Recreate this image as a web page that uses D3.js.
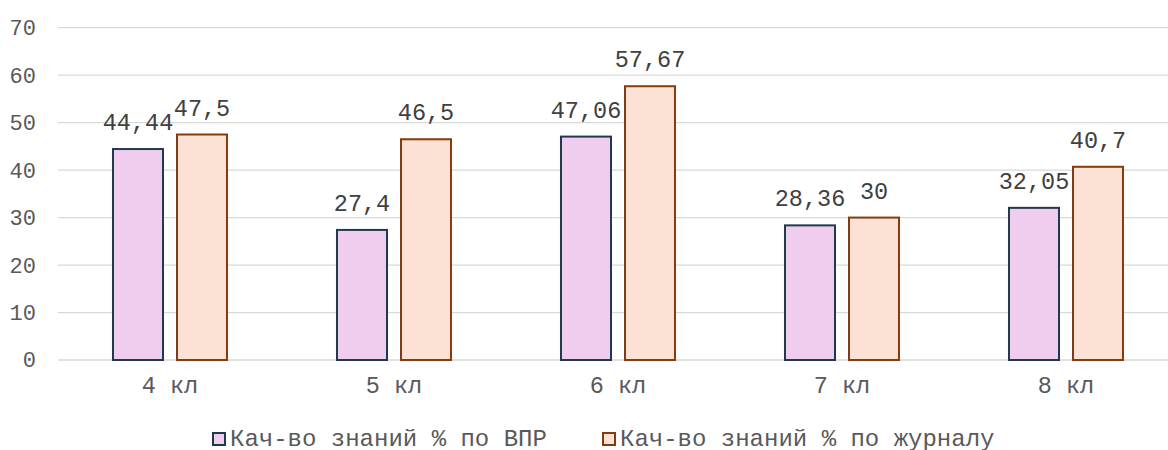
<!DOCTYPE html>
<html>
<head>
<meta charset="utf-8">
<script src="https://cdn.jsdelivr.net/npm/d3@7"></script>
<style>
  body { margin: 0; background: #fff; }
  svg { display: block; font-family: "Liberation Mono", monospace; }
</style>
</head>
<body>
<svg id="chart" width="1168" height="450"></svg>
<script>
const categories = ["4 кл", "5 кл", "6 кл", "7 кл", "8 кл"];
const seriesNames = ["Кач-во знаний % по ВПР", "Кач-во знаний % по журналу"];
const vprValues = [44.44, 27.4, 47.06, 28.36, 32.05];
const journalValues = [47.5, 46.5, 57.67, 30, 40.7];
const yTicks = [0, 10, 20, 30, 40, 50, 60, 70];

const fills = ["#f0cdee", "#fbe2d5"];
const strokes = ["#1f3a4f", "#843c0c"];

const svg = d3.select("#chart");
const margin = { top: 28, left: 58, right: -10, bottom: 90 };
const width = 1168, height = 450;

const x0 = d3.scaleBand()
  .domain(categories)
  .range([margin.left, width - margin.right])
  .padding(0);

const x1 = d3.scaleBand()
  .domain([0, 1])
  .range([0, x0.bandwidth()])
  .paddingInner(14 / 64)
  .paddingOuter(0.859);

const y = d3.scaleLinear()
  .domain([0, 70])
  .range([360, 27.7]);

const fmt = (v) => String(v).replace(".", ",");

// gridlines
svg.append("g")
  .selectAll("line")
  .data(yTicks)
  .join("line")
  .attr("x1", margin.left)
  .attr("x2", width)
  .attr("y1", (d) => y(d))
  .attr("y2", (d) => y(d))
  .attr("stroke", "#d9d9d9")
  .attr("stroke-width", 1.3);

// y tick labels
svg.append("g")
  .selectAll("text")
  .data(yTicks)
  .join("text")
  .attr("x", 36)
  .attr("y", (d) => y(d))
  .attr("dy", "0.34em")
  .attr("text-anchor", "end")
  .attr("fill", "#595959")
  .style("font-size", "22px")
  .text((d) => d);

// x labels
svg.append("g")
  .selectAll("text")
  .data(categories)
  .join("text")
  .attr("x", (d) => x0(d) + x0.bandwidth() / 2)
  .attr("y", 393)
  .attr("text-anchor", "middle")
  .attr("fill", "#595959")
  .style("font-size", "23.5px")
  .text((d) => d);

const rows = [];
categories.forEach((c, i) => {
  rows.push({ c, s: 0, v: vprValues[i] });
  rows.push({ c, s: 1, v: journalValues[i] });
});

svg.append("g")
  .selectAll("rect")
  .data(rows)
  .join("rect")
  .attr("x", (d) => x0(d.c) + x1(d.s))
  .attr("y", (d) => y(d.v))
  .attr("width", x1.bandwidth())
  .attr("height", (d) => y(0) - y(d.v))
  .attr("fill", (d) => fills[d.s])
  .attr("stroke", (d) => strokes[d.s])
  .attr("stroke-width", 2);

svg.append("g")
  .selectAll("text")
  .data(rows)
  .join("text")
  .attr("x", (d) => x0(d.c) + x1(d.s) + x1.bandwidth() / 2)
  .attr("y", (d) => y(d.v) - 19)
  .attr("text-anchor", "middle")
  .attr("fill", "#404040")
  .style("font-size", "23.5px")
  .text((d) => fmt(d.v));

// legend
const legendX = [213, 603];
const legend = svg.append("g")
  .selectAll("g")
  .data(seriesNames)
  .join("g")
  .attr("transform", (d, i) => `translate(${legendX[i]},433)`);

legend.append("rect")
  .attr("width", 12)
  .attr("height", 12)
  .attr("fill", (d, i) => fills[i])
  .attr("stroke", (d, i) => strokes[i])
  .attr("stroke-width", 2);

legend.append("text")
  .attr("x", 17)
  .attr("y", 13)
  .attr("fill", "#595959")
  .style("font-size", "24px")
  .text((d) => d);
</script>
</body>
</html>
